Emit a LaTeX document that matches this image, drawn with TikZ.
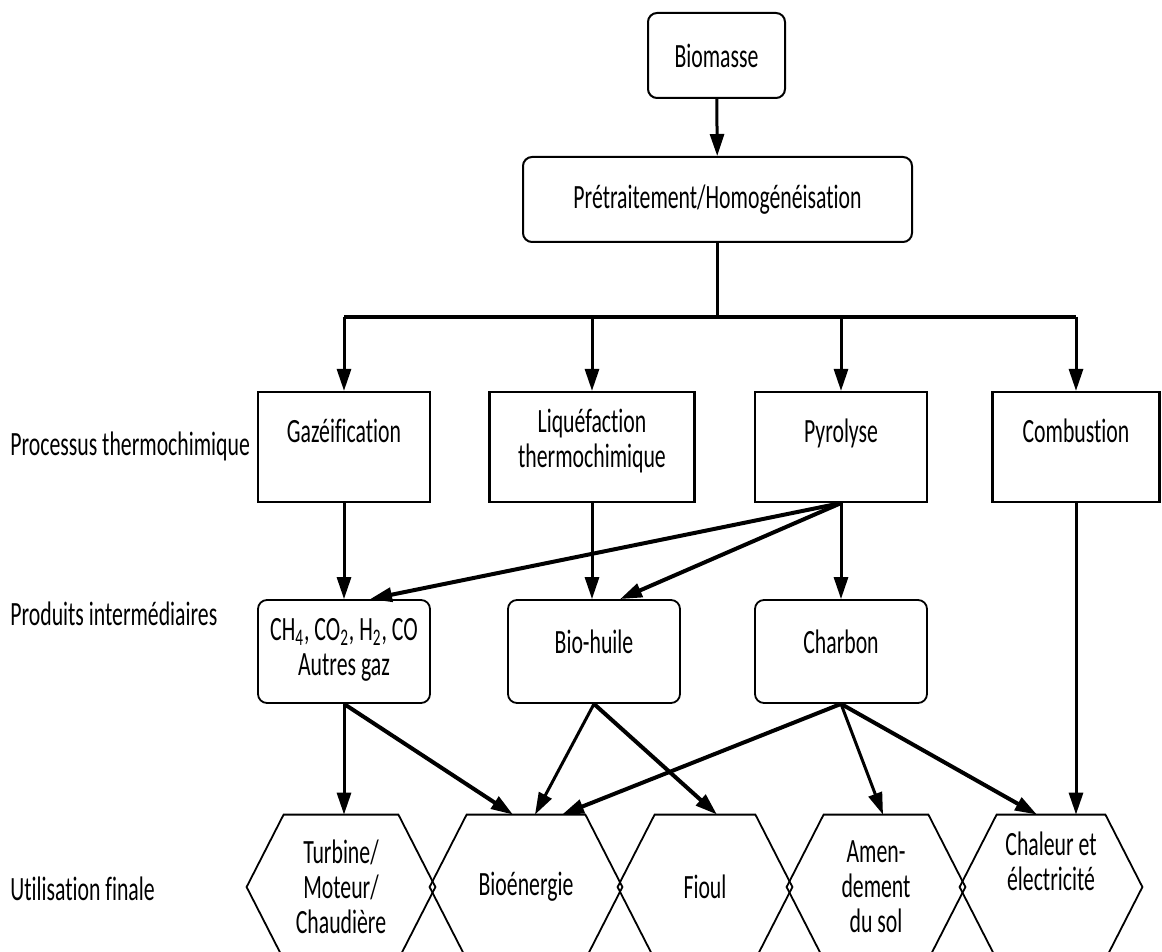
\documentclass[tikz,border=0pt]{standalone}
\usepackage{fontspec}
\setmainfont{Carlito}[FakeStretch=0.64, Ligatures=NoCommon]
\usepackage{tikz}
\usetikzlibrary{positioning,arrows.meta,calc}

\begin{document}
\begin{tikzpicture}[x=0.5pt, y=-0.5pt,
    font=\fontsize{17}{17.5}\selectfont,
    start/.style={rectangle, rounded corners=4.5pt, draw, line width=1pt,
                  align=center, minimum height=42.5pt},
    stage/.style={rectangle, draw, line width=1.1pt, align=center,
                  inner ysep=0pt, text height=25pt, text depth=30pt,
                  minimum height=55pt},
    product/.style={rectangle, rounded corners=4.5pt, draw, line width=0.9pt,
                  align=center, inner ysep=0pt, text height=26.5pt,
                  text depth=25pt, minimum height=51.5pt},
    usecell/.style={rectangle, align=center, minimum height=72pt, inner sep=0pt},
    hexline/.style={line width=0.9pt, line join=miter},
    rowlabel/.style={anchor=base west, inner sep=0pt},
    link/.style={line width=1.5pt, -{Triangle[length=11pt,width=7pt]}},
    slant/.style={line width=2pt, -{Triangle[length=11pt,width=7pt]}},
    bus/.style={line width=2.2pt},
  ]
    \useasboundingbox (0,0) rectangle (1162,952);

    % --- feedstock --------------------------------------------------------
    \node[start, minimum width=68.5pt] (biom)  at (716.5,55.5) {Biomasse};
    \node[start, minimum width=194.5pt] (pretr) at (717.5,199.5) {Prétraitement/Homogénéisation};

    % --- thermochemical processes -----------------------------------------
    \node[stage, minimum width=86pt]   (gaz)  at (344,447)  {Gazéification};
    \node[stage, minimum width=102.5pt, text height=37.5pt, text depth=17.5pt]
                                       (liq)  at (592,447)  {Liquéfaction\\thermochimique};
    \node[stage, minimum width=86pt]   (pyr)  at (841,447)  {Pyrolyse};
    \node[stage, minimum width=83.5pt] (comb) at (1076,447) {Combustion};

    % --- intermediate products --------------------------------------------
    \node[product, minimum width=86pt, text height=37.5pt, text depth=14pt]
                                        (gas)  at (344,651.5) {CH\textsubscript{4}, CO\textsubscript{2}, H\textsubscript{2}, CO\\Autres gaz};
    \node[product, minimum width=86pt] (oil)  at (594,651.5) {Bio-huile};
    \node[product, minimum width=86pt] (char) at (841,651.5) {Charbon};

    % --- end uses (hexagons) ----------------------------------------------
    \node[usecell, minimum width=94pt] (turb)  at (341,887)  {Turbine/\\Moteur/\\Chaudière};
    \node[usecell, minimum width=96pt] (bio)   at (526,887)  {Bioénergie};
    \node[usecell, minimum width=87pt] (fioul) at (705,887)  {Fioul};
    \node[usecell, minimum width=89pt] (amend) at (876,887)  {Amen-\\dement\\du sol};
    \node[usecell, minimum width=91pt, text height=37.5pt, text depth=34.5pt]
                                       (heat)  at (1051,887) {Chaleur et\\électricité};
    \foreach \h in {turb,bio,fioul,amend,heat}
      \draw[hexline] (\h.west) -- ($(\h.north west)+(37,0)$) -- ($(\h.north east)+(-37,0)$)
        -- (\h.east) -- ($(\h.south east)+(-37,0)$) -- ($(\h.south west)+(37,0)$) -- cycle;

    % --- row captions -----------------------------------------------------
    \node[rowlabel] (cap1) at (10,455) {Processus thermochimique};
    \node[rowlabel] (cap2) at (10,625) {Produits intermédiaires};
    \node[rowlabel] (cap3) at (10,900) {Utilisation finale};

    % --- feed line and distribution bus -----------------------------------
    \coordinate (bus) at (0,317);
    \draw[link] (biom) -- (pretr);
    \draw[line width=1.5pt] (pretr.south) -- (pretr.south |- bus);
    \draw[bus] (gaz.north |- bus) -- (comb.north |- bus);
    \draw[link] (gaz.north |- bus) -- (gaz.north);
    \draw[link] (liq.north |- bus) -- (liq.north);
    \draw[link] (pyr.north |- bus) -- (pyr.north);
    \draw[link] (comb.north |- bus) -- (comb.north);

    % --- process -> products ----------------------------------------------
    \draw[link]  (gaz) -- (gas);
    \draw[link]  (liq.south) -- (liq.south |- oil.north);
    \draw[link]  (pyr) -- (char);
    \draw[slant] (pyr.south) -- ($(gas.north)+(26,0)$);
    \draw[slant] (pyr.south) -- ($(oil.north)+(26,0)$);

    % --- products -> end uses ---------------------------------------------
    \draw[link]  (gas.south) -- (gas.south |- turb.north);
    \draw[slant] (gas.south) -- ($(bio.north)+(-13,0)$);
    \draw[link]  (oil.south) -- ($(bio.north)+(9,0)$);
    \draw[slant] (oil.south) -- ($(fioul.north)+(12,0)$);
    \draw[slant] (char.south) -- ($(bio.north)+(36,0)$);
    \draw[link]  (char.south) -- ($(amend.north)+(7,0)$);
    \draw[slant] (char.south) -- ($(heat.north)+(-14,0)$);
    \draw[link]  (comb.south) -- (comb.south |- heat.north);
\end{tikzpicture}
\end{document}
